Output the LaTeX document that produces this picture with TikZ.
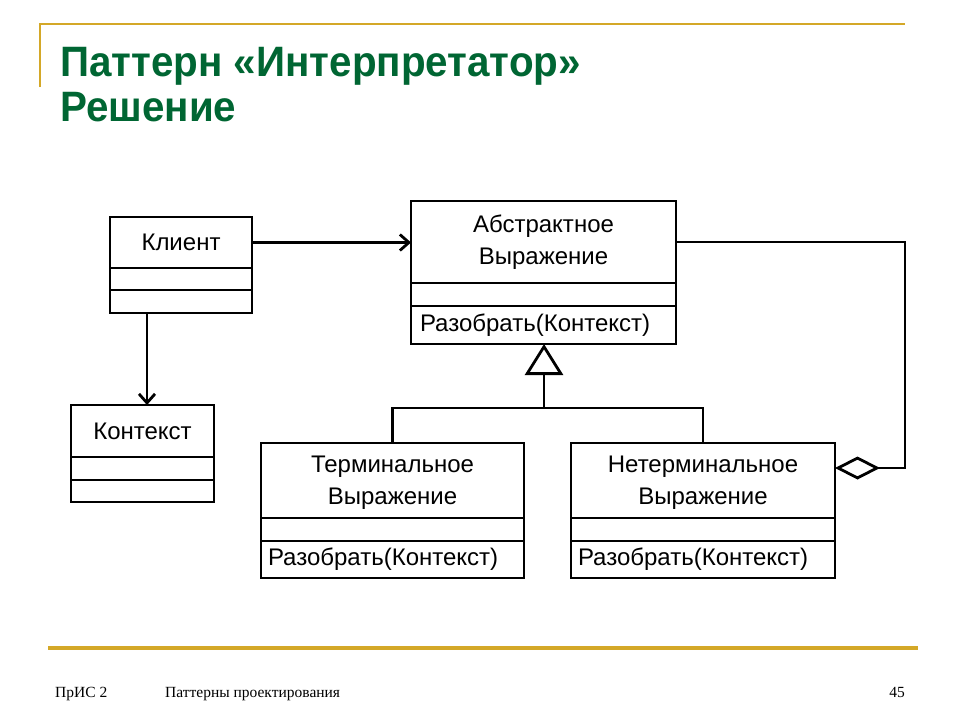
\documentclass[tikz,border=0pt]{standalone}
\usepackage{fontspec}
\setmainfont{Liberation Sans}
\newfontfamily\titlefont[FakeStretch=0.95]{Liberation Sans}
\newfontfamily\footfont{Liberation Serif}
\usetikzlibrary{arrows.meta}
\definecolor{gold}{RGB}{212,168,40}
\definecolor{titlegreen}{RGB}{0,102,51}
\tikzset{
  comp/.style={draw, line width=2.8pt, anchor=north west, inner sep=0pt, outer sep=0pt,
    font=\fontsize{24}{32}\selectfont, align=center},
  ops/.style={comp, inner xsep=9pt, align=left},
  link/.style={line width=2.8pt},
  open arrow/.style={link, -{Straight Barb[length=9pt,width=16pt,line width=2.8pt]}},
  inherit/.style={link, -{Triangle[open,length=31pt,width=38pt,line width=2.8pt]}},
  aggr/.style={link, -{Diamond[open,length=45pt,width=23pt,line width=2.8pt]}},
  titletext/.style={anchor=base west, inner sep=0pt, text=titlegreen, font=\titlefont\bfseries\fontsize{42.5}{46}\selectfont},
  foottext/.style={anchor=base west, inner sep=0pt, font=\footfont\fontsize{15.5}{18}\selectfont}
}
\begin{document}
\begin{tikzpicture}[x=1pt,y=-1pt]
\useasboundingbox (0,0) rectangle (960,720);
\fill[white] (0,0) rectangle (960,720);
% decoration
\draw[gold, line width=2pt] (40,87) -- (40,24) -- (905,24);
\draw[gold, line width=3.5pt] (48,648) -- (918,648);
% title
\node[titletext] (t1) at (60,76) {Паттерн «Интерпретатор»};
\node[titletext] (t2) at (60,121) {Решение};
% footer
\node[foottext] (f1) at (55,697) {ПрИС 2};
\node[foottext] (f2) at (165,697) {Паттерны проектирования};
\node[foottext, anchor=base east] (f3) at (905,697) {45};
% Client
\node[comp, minimum width=142pt, minimum height=51pt] (kl-n) at (110,217) {Клиент};
\node[comp, minimum width=142pt, minimum height=22pt] (kl-a) at (kl-n.south west) {};
\node[comp, minimum width=142pt, minimum height=23pt] (kl-o) at (kl-a.south west) {};
% Context
\node[comp, minimum width=143pt, minimum height=52pt] (ctx-n) at (71,405) {Контекст};
\node[comp, minimum width=143pt, minimum height=23pt] (ctx-a) at (ctx-n.south west) {};
\node[comp, minimum width=143pt, minimum height=22pt] (ctx-o) at (ctx-a.south west) {};
% Abstract expression
\node[comp, minimum width=265pt, minimum height=82pt] (abs-n) at (411,201) {Абстрактное\\Выражение};
\node[comp, minimum width=265pt, minimum height=23pt] (abs-a) at (abs-n.south west) {};
\node[ops, minimum width=265pt, minimum height=38pt, text width=247pt] (abs-o) at (abs-a.south west) {Разобрать(Контекст)};
% Terminal expression
\node[comp, minimum width=263pt, minimum height=75pt, text depth=-4pt] (te-n) at (261,443) {Терминальное\\Выражение};
\node[comp, minimum width=263pt, minimum height=23pt] (te-a) at (te-n.south west) {};
\node[ops, minimum width=263pt, minimum height=37pt, inner xsep=7pt, text width=249pt] (te-o) at (te-a.south west) {Разобрать(Контекст)};
% Nonterminal expression
\node[comp, minimum width=264pt, minimum height=75pt, text depth=-4pt] (nt-n) at (571,443) {Нетерминальное\\Выражение};
\node[comp, minimum width=264pt, minimum height=23pt] (nt-a) at (nt-n.south west) {};
\node[ops, minimum width=264pt, minimum height=37pt, inner xsep=7pt, text width=250pt] (nt-o) at (nt-a.south west) {Разобрать(Контекст)};
% connectors
\draw[open arrow] (kl-n.east) -- (kl-n.east -| abs-n.west);
\coordinate (kdown) at (147,313);
\draw[open arrow] (kdown) -- (kdown |- ctx-n.north);
\coordinate (jn) at (544,408);
\draw[link] (te-n.north) -- (te-n.north |- jn) -- (nt-n.north |- jn) -- (nt-n.north);
\draw[inherit] (jn) -- (jn |- abs-o.south);
\coordinate (agg) at (835,468);
\coordinate (rside) at (905,241);
\draw[aggr] (abs-n.east) -- (abs-n.east -| rside) -- (rside |- agg) -- (agg);
\end{tikzpicture}
\end{document}
